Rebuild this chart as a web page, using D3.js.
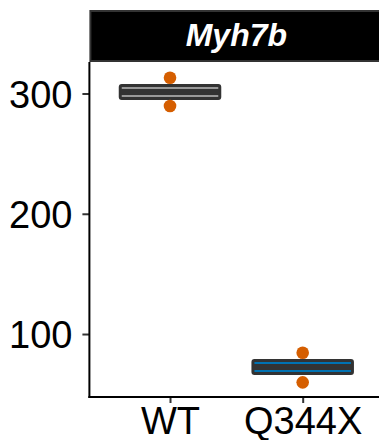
<!DOCTYPE html>
<html><head><meta charset="utf-8">
<script src="https://cdn.jsdelivr.net/npm/d3@7"></script>
<style>body{margin:0;background:#fff;} svg{display:block;} text{font-family:"Liberation Sans",Arial,sans-serif;}</style>
</head><body>
<script>
const categories = ["WT", "Q344X"];
const boxLower = [295.8, 67.2];
const boxMedian = [301.2, 72.6];
const boxUpper = [306.7, 78.0];
const pointCategory = ["WT", "WT", "Q344X", "Q344X"];
const pointValues = [313.1, 289.6, 84.4, 59.8];
const fills = ["#999999", "#0072B2"];
const yTicks = [100, 200, 300];
const stripLabel = "Myh7b";

const W = 379, H = 440;
const svg = d3.select("body").append("svg").attr("width", W).attr("height", H);

const panel = {left: 90.4, right: 382.3, top: 62, bottom: 398};
const x = d3.scalePoint().domain(categories).range([panel.left, panel.right]).padding(0.6);
const y = d3.scaleLinear().domain([46.8, 326.2]).range([panel.bottom, panel.top]);

// strip
svg.append("rect").attr("x", panel.left).attr("y", 11).attr("width", panel.right - panel.left).attr("height", 50)
  .attr("fill", "#000").attr("stroke", "#333").attr("stroke-width", 2);
svg.append("text").attr("x", (panel.left + panel.right) / 2).attr("y", 46)
  .attr("text-anchor", "middle").attr("fill", "#fff").attr("font-size", 32)
  .attr("font-weight", "bold").attr("font-style", "italic").text(stripLabel);

// boxes
const bw = x.step() * 0.75;
const g = svg.append("g");
categories.forEach((c, i) => {
  const cx = x(c);
  g.append("rect").attr("x", cx - bw / 2).attr("y", y(boxUpper[i]))
    .attr("width", bw).attr("height", y(boxLower[i]) - y(boxUpper[i]))
    .attr("rx", 1.5).attr("fill", fills[i]).attr("stroke", "#333").attr("stroke-width", 3);
  g.append("line").attr("x1", cx - bw / 2).attr("x2", cx + bw / 2)
    .attr("y1", y(boxMedian[i])).attr("y2", y(boxMedian[i]))
    .attr("stroke", "#333").attr("stroke-width", 6);
});

// points
svg.append("g").selectAll("circle").data(pointValues).join("circle")
  .attr("cx", (d, i) => x(pointCategory[i])).attr("cy", d => y(d))
  .attr("r", 6.3).attr("fill", "#D55E00");

// axes
const yAxis = d3.axisLeft(y).tickValues(yTicks).tickSize(7).tickPadding(10);
const ya = svg.append("g").attr("transform", `translate(${panel.left - 1},0)`).call(yAxis);
ya.select(".domain").remove();
ya.selectAll(".tick line").attr("stroke", "#333").attr("stroke-width", 2);
ya.selectAll(".tick text").attr("font-size", 38).attr("fill", "#000")
  .attr("font-family", "Liberation Sans, Arial, sans-serif").attr("dy", "0.36em");
svg.append("line").attr("x1", panel.left - 1).attr("x2", panel.left - 1)
  .attr("y1", panel.top).attr("y2", panel.bottom).attr("stroke", "#000").attr("stroke-width", 2);

const xAxis = d3.axisBottom(x).tickSize(6).tickPadding(4);
const xa = svg.append("g").attr("transform", `translate(0,${panel.bottom - 1})`).call(xAxis);
xa.select(".domain").remove();
xa.selectAll(".tick line").attr("stroke", "#333").attr("stroke-width", 2);
xa.selectAll(".tick text").attr("font-size", 38).attr("fill", "#000")
  .attr("font-family", "Liberation Sans, Arial, sans-serif").attr("dy", "0.71em");
svg.append("line").attr("x1", panel.left - 2).attr("x2", panel.right)
  .attr("y1", panel.bottom - 1).attr("y2", panel.bottom - 1).attr("stroke", "#000").attr("stroke-width", 2);
</script>
</body></html>
